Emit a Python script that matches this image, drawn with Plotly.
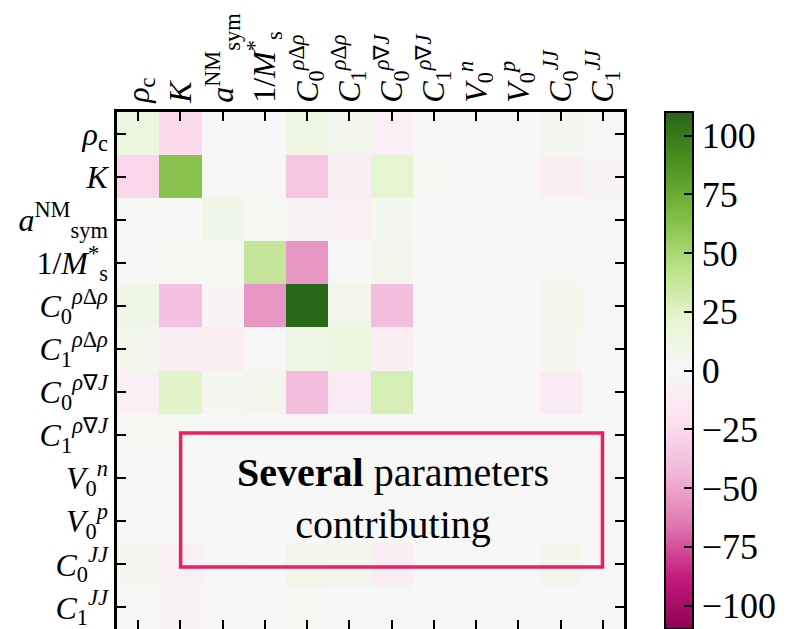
import plotly.graph_objects as go

# Parameter labels (rows and columns share the same order)
params = [
    "<i>ρ</i><sub>c</sub>",
    "<i>K</i>",
    "<i>a</i><sup>NM</sup><sub>sym</sub>",
    "1/<i>M</i><sup>*</sup><sub>s</sub>",
    "<i>C</i><sub>0</sub><sup><i>ρ</i>Δ<i>ρ</i></sup>",
    "<i>C</i><sub>1</sub><sup><i>ρ</i>Δ<i>ρ</i></sup>",
    "<i>C</i><sub>0</sub><sup><i>ρ</i>∇<i>J</i></sup>",
    "<i>C</i><sub>1</sub><sup><i>ρ</i>∇<i>J</i></sup>",
    "<i>V</i><sub>0</sub><sup><i>n</i></sup>",
    "<i>V</i><sub>0</sub><sup><i>p</i></sup>",
    "<i>C</i><sub>0</sub><sup><i>JJ</i></sup>",
    "<i>C</i><sub>1</sub><sup><i>JJ</i></sup>",
]

# Contribution matrix (percent)
row_rho_c    = [ 14, -25,   0,   0,  12,   6,  -8,  0, 0, 0,   4,  1]
row_K        = [-27,  62,   1,   1, -36, -10,  22,  2, 0, 0, -10, -4]
row_asym     = [  1,   1,   9,   3,  -3,  -8,   4,  0, 0, 0,  -2, -1]
row_Ms       = [  0,   2,   3,  38, -55,   0,   6,  0, 0, 0,   1,  0]
row_C0rDr    = [ 10, -38,  -3, -55, 108,   8, -40,  0, 0, 0,   6, -2]
row_C1rDr    = [  5, -10, -10,  -2,  10,  14, -10,  0, 0, 0,   4,  0]
row_C0rNJ    = [ -8,  24,   4,   6, -40, -12,  30,  0, 0, 0, -12,  0]
row_C1rNJ    = [  2,   2,   0,   0,   1,   0,   0,  1, 0, 0,   0,  0]
row_V0n      = [  0,   0,   0,   0,   0,   0,   0,  0, 0, 0,   0,  0]
row_V0p      = [  0,   0,   0,   0,   0,   0,   0,  0, 0, 0,   0,  0]
row_C0JJ     = [  4,  -8,  -2,   0,   8,   6, -10,  0, 0, 0,   6,  0]
row_C1JJ     = [  1,  -3,   0,   0,   2,   0,  -1,  0, 0, 0,   0,  0]

z = [row_rho_c, row_K, row_asym, row_Ms, row_C0rDr, row_C1rDr,
     row_C0rNJ, row_C1rNJ, row_V0n, row_V0p, row_C0JJ, row_C1JJ]

cbar_ticks = [-100, -75, -50, -25, 0, 25, 50, 75, 100]
zlim = 110

FONT = "Liberation Serif"
idx = list(range(len(params)))

fig = go.Figure(
    go.Heatmap(
        z=z,
        x=idx,
        y=idx,
        colorscale="PiYG",
        zmin=-zlim,
        zmax=zlim,
        colorbar=dict(
            x=1.0618,
            xanchor="left",
            y=1,
            yanchor="top",
            len=1,
            ypad=0,
            thickness=28,
            outlinecolor="black",
            outlinewidth=2,
            ticks="inside",
            ticklen=10,
            tickwidth=2,
            tickcolor="black",
            tickvals=cbar_ticks,
            tickfont=dict(family=FONT, size=36, color="black"),
        ),
    )
)

axis_common = dict(
    tickvals=idx,
    ticktext=params,
    ticks="inside",
    ticklen=9,
    tickwidth=2,
    tickcolor="black",
    showline=True,
    linecolor="black",
    linewidth=2.5,
    mirror="ticks",
    showgrid=False,
    zeroline=False,
    automargin=False,
    ticklabeloverflow="allow",
    tickfont=dict(family=FONT, size=32, color="black"),
)

fig.update_xaxes(side="top", tickangle=-90, range=[-0.5, 11.5], **axis_common)
fig.update_yaxes(autorange=False, range=[11.5, -0.5], **axis_common)

# Highlight box with caption
W, H = 518, 517
L, T = 117, 112
def px(xp):
    return (xp - L) / W
def py(yp):
    return (T + H - yp) / H

fig.add_shape(
    type="rect", xref="paper", yref="paper",
    x0=px(182), x1=px(613), y0=py(567), y1=py(433),
    line=dict(color="#E91E63", width=3.5),
    fillcolor="rgba(0,0,0,0)",
)
fig.add_annotation(
    xref="paper", yref="paper",
    x=px(399), y=py(499),
    xanchor="center", yanchor="middle",
    text="<b>Several</b> parameters<br>contributing",
    showarrow=False,
    font=dict(family=FONT, size=40, color="black"),
    align="center",
)

fig.update_layout(
    width=798,
    height=629,
    margin=dict(l=L, r=798 - L - W, t=T, b=0),
    paper_bgcolor="white",
    plot_bgcolor="white",
)

fig.write_html("out.html")
